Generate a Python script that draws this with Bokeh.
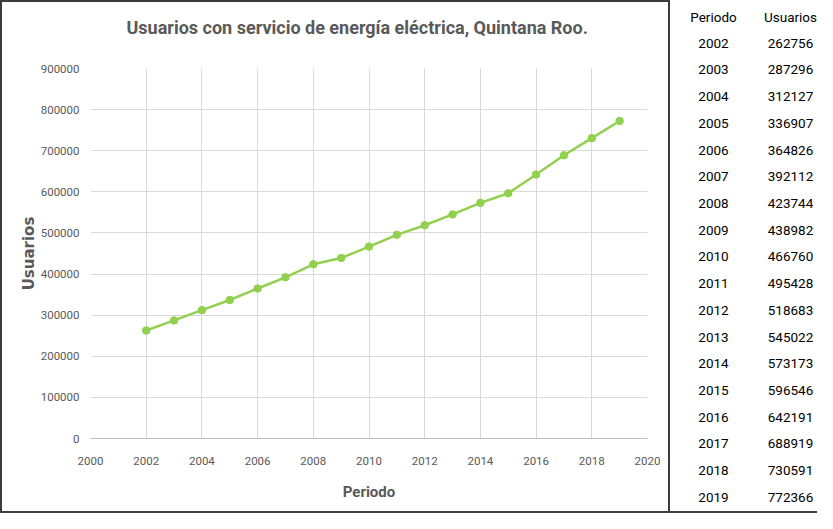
from bokeh.plotting import figure
from bokeh.models import (Range1d, FixedTicker, Title, ColumnDataSource,
                          NumeralTickFormatter)
from bokeh.layouts import row, column
from bokeh.core.properties import value
from bokeh.embed import file_html
from bokeh.resources import INLINE

periodo = [2002, 2003, 2004, 2005, 2006, 2007, 2008, 2009, 2010, 2011,
           2012, 2013, 2014, 2015, 2016, 2017, 2018, 2019]
usuarios = [262756, 287296, 312127, 336907, 364826, 392112, 423744, 438982,
            466760, 495428, 518683, 545022, 573173, 596546, 642191, 688919,
            730591, 772366]
x_ticks = [2000, 2002, 2004, 2006, 2008, 2010, 2012, 2014, 2016, 2018, 2020]
y_ticks = [0, 100000, 200000, 300000, 400000, 500000, 600000, 700000, 800000, 900000]
title_text = "Usuarios con servicio de energía eléctrica, Quintana Roo."
x_label = "Periodo"
y_label = "Usuarios"
table_headers = ["Periodo", "Usuarios"]

GRAY = "#595959"
GREEN = "#92D050"
FONT = "Roboto"
TOP, BOTTOM = 66, 77

p = figure(width=670, height=513, output_backend="svg", toolbar_location=None,
           x_range=Range1d(2000, 2020), y_range=Range1d(0, 900000),
           min_border_left=88, min_border_right=25, min_border_top=TOP,
           min_border_bottom=BOTTOM, title=None,
           styles={"border": "2px solid #3c3c3c", "box-sizing": "border-box"})
p.outline_line_color = None
p.background_fill_color = "white"
p.border_fill_color = "white"

spacer = Title(text=" ", text_font=FONT, text_font_size="12px")
p.add_layout(spacer, "above")
t = Title(text=title_text, align="left", text_font=FONT, text_font_size="18px",
          text_font_style="bold", text_color=GRAY, offset=36)
p.add_layout(t, "above")

p.xaxis.ticker = FixedTicker(ticks=x_ticks)
p.yaxis.ticker = FixedTicker(ticks=y_ticks)
p.yaxis.formatter = NumeralTickFormatter(format="0")
p.xaxis.formatter = NumeralTickFormatter(format="0")
for ax in (p.xaxis, p.yaxis):
    ax.major_tick_in = 0
    ax.major_tick_out = 0
    ax.minor_tick_in = 0
    ax.minor_tick_out = 0
    ax.major_label_text_font = FONT
    ax.major_label_text_font_size = "11.5px"
    ax.major_label_text_color = GRAY
    ax.axis_label_text_color = GRAY
p.xaxis.axis_line_color = "#bfbfbf"
p.yaxis.axis_line_color = None
p.xaxis.major_label_standoff = 18
p.yaxis.major_label_standoff = 11
p.xaxis.axis_label = x_label
p.yaxis.axis_label = y_label
p.xaxis.axis_label_text_font = FONT
p.xaxis.axis_label_text_font_size = "15px"
p.xaxis.axis_label_text_font_style = "bold"
p.xaxis.axis_label_standoff = 15
p.yaxis.axis_label_text_font = "DejaVu Sans"
p.yaxis.axis_label_text_font_size = "15px"
p.yaxis.axis_label_text_font_style = "bold"
p.yaxis.axis_label_standoff = 0

p.xgrid.grid_line_color = "#d9d9d9"
p.ygrid.grid_line_color = "#d9d9d9"

src = ColumnDataSource(dict(x=periodo, y=usuarios))
p.line("x", "y", source=src, line_color=GREEN, line_width=2.5)
p.scatter("x", "y", source=src, size=7.5, fill_color=GREEN, line_color=GREEN)

# Table (row 0 = header, rows 1..18 = data)
ROW_PX = 26.6
TB_H = 513 - 2
top_val = -16 / ROW_PX
rows = list(range(1, len(periodo) + 1))
tsrc = ColumnDataSource(dict(
    r=rows,
    per=[str(v) for v in periodo],
    usu=[str(v) for v in usuarios],
))
tb = figure(width=147, height=513, output_backend="svg", toolbar_location=None,
            x_range=Range1d(0, 147), y_range=Range1d(top_val + TB_H / ROW_PX, top_val),
            min_border=0, min_border_left=0, min_border_right=0,
            min_border_top=0, min_border_bottom=0,
            styles={"border-bottom": "2px solid #3c3c3c", "box-sizing": "border-box"})
tb.axis.visible = False
tb.grid.visible = False
tb.outline_line_color = None
tb.border_fill_color = "white"

COL1, COL2 = 43, 120
common = dict(text_align="center", text_baseline="middle", text_font=value(FONT),
              text_font_size="13.5px", text_color="black")
tb.text(x=[COL1, COL2], y=[0, 0], text=table_headers, **common)
tb.text(x=COL1, y="r", text="per", source=tsrc, **common)
tb.text(x=COL2, y="r", text="usu", source=tsrc, **common)

layout = row(column(p), column(tb), spacing=0)
open("out.html", "w").write(file_html(layout, INLINE))
